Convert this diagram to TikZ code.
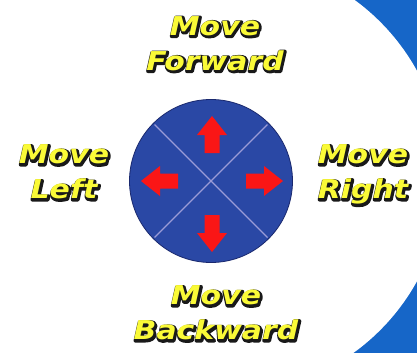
\documentclass[tikz,border=0pt]{standalone}
\usepackage{fontspec}
\usepackage{tikz}
\usetikzlibrary{calc, positioning}

\newfontfamily\movefont[FakeStretch=1.15]{DejaVu Sans}

\definecolor{bgblue}{RGB}{22,102,200}
\definecolor{discblue}{RGB}{42,72,165}
\definecolor{discedge}{RGB}{25,40,110}
\definecolor{crossline}{RGB}{155,155,215}
\definecolor{arrowred}{RGB}{250,22,22}
\definecolor{textyellow}{RGB}{250,250,55}

% thick stroked letters, for the dark rim and shadow
\newcommand{\rimmed}[1]{\special{pdf:literal direct 2 Tr 3.6 w 1 j}#1\special{pdf:literal direct 0 Tr}}

\tikzset{
  movetext/.style={font=\movefont\bfseries\itshape\fontsize{26}{35}\selectfont,
    align=center, inner sep=0pt, text depth=0pt, text=textyellow},
  shadowtext/.style={movetext, text=black!90},
  movearrow/.pic={
    \fill[arrowred] (0,-7.5) -- (18,-7.5) -- (18,-15) -- (37,0)
      -- (18,15) -- (18,7.5) -- (0,7.5) -- cycle;
  }
}

\begin{document}
\begin{tikzpicture}[x=1pt, y=1pt]
\useasboundingbox (0,0) rectangle (417,-353);

% Background
\fill[bgblue] (0,0) rectangle (417,-353);
\fill[white] (226,-176) circle (218);
\fill[white] (0,0) rectangle (300,-353);

% Disc
\node[circle, fill=discblue, draw=discedge, line width=0.8, minimum size=163, inner sep=0] (disc) at (211,-181) {};
\draw[crossline, line width=1.4, shorten <=2, shorten >=2] (disc.45) -- (disc.225);
\draw[crossline, line width=1.4, shorten <=2, shorten >=2] (disc.135) -- (disc.315);

% Arrows
\pic[rotate=90] at (212,-153) {movearrow};
\pic[rotate=-90] at (212,-215) {movearrow};
\pic[rotate=180] at (178,-181) {movearrow};
\pic at (246,-181) {movearrow};

% Labels (shadow first, then the yellow text)
\node[shadowtext] at (216,-44.3) {\rimmed{Move}\\\rimmed{Forward}};
\node[movetext] (forward) at (215,-43.5) {Move\\Forward};
\node[shadowtext] at (65,-172.8) {\rimmed{Move}\\\rimmed{Left}};
\node[movetext] (left) at (64,-172) {Move\\Left};
\node[shadowtext] at (364,-172.8) {\rimmed{Move}\\\rimmed{Right}};
\node[movetext] (right) at (363,-172) {Move\\Right};
\node[shadowtext] at (217,-313.8) {\rimmed{Move}\\\rimmed{Backward}};
\node[movetext] (backward) at (216,-313) {Move\\Backward};

\end{tikzpicture}
\end{document}
